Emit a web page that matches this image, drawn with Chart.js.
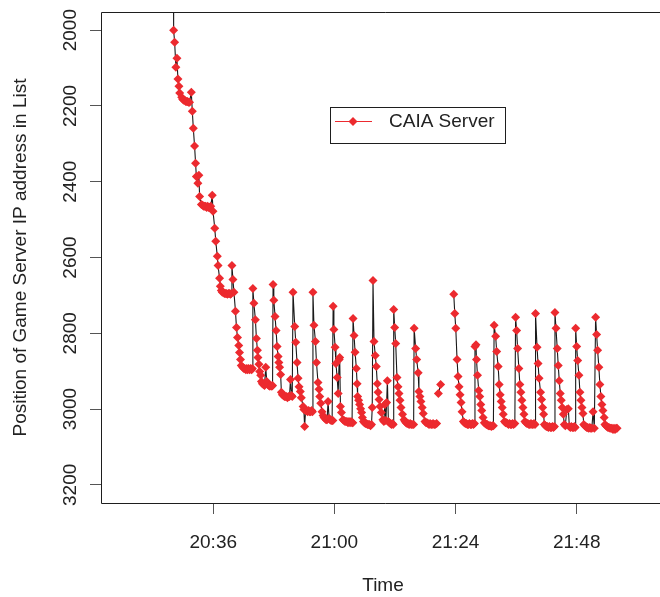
<!DOCTYPE html>
<html>
<head>
<meta charset="utf-8">
<title>CAIA Server position</title>
<script src="https://cdn.jsdelivr.net/npm/chart.js@4"></script>
<style>
  html, body { margin: 0; padding: 0; background: #fff; overflow: hidden; }
  canvas { display: block; }
</style>
</head>
<body>
<canvas id="chart" width="670" height="597"></canvas>
<script>
// Sample times, in minutes after 20:00 (null position = no sample, line breaks)
const minutes = [
  28.10, 28.15, 28.35, 28.60, 28.80, 29.00, 29.20, 29.35, 29.75, 29.95, 30.15, 30.35, 30.55, 30.75, 30.90, 31.10, 31.30,
  31.65, 31.85, 32.05, 32.30, 32.50, 32.65, 32.95, 33.15, 33.30, 33.65, 33.90, 34.10, 34.30, 34.50, 34.70, 34.90, 35.10, 35.30, 35.50,
  35.80, 35.95, 36.30, 36.50, 36.80, 36.95, 37.25, 37.40, 37.60, 37.80, 38.00, 38.20, 38.40, 38.60, 38.80, 39.00, 39.20, 39.40, 39.55,
  39.70, 39.90, 40.10, 40.40, 40.60, 40.80, 41.05, 41.20, 41.40, 41.55, 41.85, 42.05, 42.25, 42.45, 42.65, 42.80, 43.00, 43.20, 43.40, 43.60, 43.75,
  43.85, 44.05, 44.35, 44.55, 44.75, 44.85, 45.05, 45.20, 45.40, 45.55, 45.75, 45.95, 46.15, 46.40, 46.60, 46.80, 47.00, 47.20, 47.40, 47.60, 47.75,
  47.85, 48.00, 48.25, 48.45, 48.65, 48.85, 49.00, 49.15, 49.35, 49.50, 49.70, 49.90, 50.10, 50.30, 50.50, 50.70, 50.90, 51.10, 51.30, 51.50, 51.65,
  51.80, 52.15, 52.35, 52.60, 52.80, 53.00, 53.25, 53.45, 53.80, 53.95, 54.10, 54.30, 54.50, 54.70, 54.90, 55.10, 55.30, 55.50, 55.65,
  55.75, 55.95, 56.25, 56.45, 56.75, 56.95, 57.10, 57.30, 57.55, 57.75, 57.95, 58.15, 58.35, 58.55, 58.75, 58.95, 59.15, 59.35, 59.55, 59.70,
  59.75, 59.90, 60.15, 60.30, 60.55, 60.75, 60.95, 61.05, 61.20, 61.40, 61.70, 61.90, 62.10, 62.30, 62.50, 62.70, 62.90, 63.10, 63.30, 63.50, 63.65,
  63.70, 63.90, 64.10, 64.35, 64.50, 64.60, 64.80, 65.00, 65.20, 65.40, 65.55, 65.75, 65.95, 66.15, 66.35, 66.55, 66.75, 66.95, 67.15, 67.35, 67.50,
  67.65, 67.85, 68.10, 68.30, 68.50, 68.65, 68.85, 69.05, 69.30, 69.60, 69.80, 70.00, 70.20, 70.35, 70.50, 70.70, 70.90, 71.10, 71.30, 71.50, 71.65,
  71.75, 71.95, 72.15, 72.40, 72.60, 72.80, 73.00, 73.20, 73.50, 73.80, 74.00, 74.20, 74.40, 74.60, 74.80, 75.00, 75.20, 75.40, 75.70,
  75.80, 76.10, 76.30, 76.60, 76.75, 76.95, 77.15, 77.40, 77.60, 77.95, 78.15, 78.35, 78.55, 78.75, 78.95, 79.15, 79.35, 79.55, 79.75, 79.95, 80.25,
  80.40, 80.60, 81.05, 81.30,
  83.65, 83.85, 84.05, 84.30, 84.50, 84.70, 84.90, 85.10, 85.30, 85.55, 85.75, 85.95, 86.15, 86.35, 86.55, 86.75, 86.95, 87.15, 87.35, 87.55, 87.75,
  87.85, 88.05, 88.15, 88.35, 88.60, 88.80, 89.00, 89.20, 89.45, 89.70, 89.90, 90.10, 90.30, 90.50, 90.70, 90.90, 91.10, 91.30, 91.50,
  91.65, 91.95, 92.15, 92.45, 92.65, 92.85, 93.05, 93.25, 93.45, 93.70, 93.90, 94.10, 94.30, 94.50, 94.70, 94.90, 95.10, 95.30, 95.50, 95.75,
  95.90, 96.10, 96.30, 96.55, 96.75, 96.95, 97.15, 97.35, 97.55, 97.75, 97.95, 98.15, 98.35, 98.55, 98.75, 98.95, 99.15, 99.35, 99.55, 99.75,
  99.85, 100.15, 100.35, 100.55, 100.85, 101.05, 101.25, 101.45, 101.60, 101.80, 102.00, 102.20, 102.40, 102.60, 102.80, 103.00, 103.20, 103.40, 103.60,
  103.70, 103.90, 104.15, 104.35, 104.55, 104.75, 104.95, 105.15, 105.35, 105.55, 105.75, 106.05, 106.35, 106.55, 106.75, 106.95, 107.15, 107.35, 107.55, 107.70,
  107.80, 108.00, 108.20, 108.45, 108.65, 108.85, 109.05, 109.25, 109.40, 109.60, 109.80, 110.00, 110.20, 110.40, 110.60, 110.80, 111.00, 111.25, 111.50,
  111.75, 111.95, 112.15, 112.40, 112.60, 112.80, 113.00, 113.20, 113.45, 113.60, 113.80, 114.00, 114.20, 114.40, 114.60, 114.80, 115.00, 115.20, 115.40, 115.60, 115.80, 116.00
];

// Position of the game server's IP address in the list at each sample
const positions = [
  1800, 2000, 2032, 2098, 2074, 2129, 2148, 2166, 2177, 2182, 2185, 2185, 2188, 2188, 2188, 2190, 2190,
  2164, 2214, 2259, 2306, 2351, 2386, 2404, 2383, 2439, 2460, 2462, 2465, 2465, 2465, 2468, 2465, 2468, 2468, 2465,
  2436, 2478, 2523, 2557, 2597, 2621, 2655, 2676, 2687, 2692, 2692, 2695, 2695, 2695, 2697, 2695, 2695, 2697, 2695,
  2621, 2658, 2692, 2742, 2785, 2811, 2832, 2851, 2869, 2885, 2890, 2893, 2893, 2896, 2893, 2896, 2893, 2896, 2893, 2896, 2893,
  2682, 2721, 2764, 2814, 2845, 2864, 2882, 2901, 2911, 2927, 2933, 2935, 2938, 2890, 2927, 2935, 2938, 2940, 2938, 2940, 2938,
  2671, 2713, 2756, 2793, 2835, 2861, 2877, 2890, 2909, 2956, 2962, 2964, 2967, 2967, 2967, 2970, 2967, 2967, 2922, 2964, 2967,
  2692, 2782, 2824, 2877, 2919, 2941, 2954, 2970, 2993, 3001, 3046, 3004, 3004, 3007, 3004, 3007, 3007, 3004, 3007,
  2692, 2779, 2822, 2877, 2930, 2948, 2967, 2985, 3007, 3017, 3022, 3025, 3028, 3028, 2980, 3025, 3028, 3030, 3030, 3030,
  2729, 2790, 2837, 2880, 2917, 2959, 2869, 2864, 2993, 3009, 3028, 3030, 3033, 3033, 3033, 3036, 3033, 3036, 3033, 3036, 3036,
  2761, 2806, 2850, 2893, 2933, 2967, 2977, 2988, 2999, 3009, 3022, 3033, 3036, 3038, 3038, 3041, 3041, 3041, 3044, 3041, 2996,
  2661, 2822, 2859, 2888, 2933, 2956, 2975, 2993, 3009, 3028, 3033, 2988, 3030, 2983, 2925, 3033, 3036, 3038, 3041, 3038, 3041,
  2737, 2785, 2827, 2917, 2941, 2959, 2977, 2996, 3014, 3028, 3033, 3036, 3038, 3038, 3041, 3038, 3041, 3041, 3041,
  2787, 2840, 2869, 2904, 2954, 2967, 2980, 2996, 3012, 3033, 3036, 3036, 3038, 3041, 3038, 3041, 3041, 3038, 3041, 3041, 3038,
  null, 2959, 2935, null,
  2697, 2748, 2787, 2869, 2914, 2941, 2962, 2983, 3007, 3033, 3036, 3038, 3038, 3041, 3041, 3038, 3041, 3041, 3038, 3041, 3038,
  2835, 2830, 2869, 2911, 2951, 2967, 2988, 3004, 3022, 3036, 3038, 3041, 3041, 3044, 3044, 3044, 3046, 3044, 3044,
  2779, 2808, 2848, 2888, 2935, 2962, 2980, 2996, 3014, 3033, 3036, 3036, 3038, 3041, 3038, 3041, 3041, 3038, 3041, 3038,
  2758, 2793, 2840, 2893, 2935, 2956, 2977, 2996, 3014, 3033, 3036, 3038, 3038, 3041, 3041, 3038, 3041, 3041, 3038, 3041,
  2748, 2837, 2880, 2919, 2956, 2975, 2996, 3014, 3041, 3044, 3046, 3046, 3049, 3046, 3049, 3049, 3046, 3049, 3046,
  2745, 2787, 2840, 2885, 2925, 2959, 2977, 2996, 3014, 3041, 3044, 3001, 2999, 3046, 3049, 3046, 3049, 3049, 3046, 3049,
  2787, 2835, 2872, 2911, 2956, 2977, 2996, 3012, 3041, 3044, 3046, 3049, 3049, 3051, 3049, 3051, 3051, 3007, 3051,
  2758, 2803, 2845, 2890, 2935, 2967, 2988, 3004, 3022, 3041, 3044, 3046, 3049, 3049, 3051, 3051, 3051, 3054, 3051, 3054, 3051, 3051
];

// Axis ticks
const timeTicks = [36, 60, 84, 108];            // 20:36, 21:00, 21:24, 21:48
const positionTicks = [2000, 2200, 2400, 2600, 2800, 3000, 3200];

const seriesName = 'CAIA Server';
const FONT = '"Liberation Sans", Arial, Helvetica, sans-serif';
const TEXT = '#222';
const RED = '#EC2A2F';

function clock(m) {
  const h = 20 + Math.floor(m / 60);
  const mm = Math.round(m % 60);
  return h + ':' + String(mm).padStart(2, '0');
}

const points = minutes.map((m, i) => ({ x: m, y: positions[i] }));

// Frame (top, left, bottom), rotated position labels and the legend box
const framePlugin = {
  id: 'frame',
  afterDraw(chart) {
    const { ctx, chartArea: a } = chart;
    const ys = chart.scales.y;
    const L = Math.round(a.left) + 0.5, T = Math.round(a.top) + 0.5, B = Math.round(a.bottom) + 0.5;
    ctx.save();
    ctx.strokeStyle = '#1e1e1e';
    ctx.lineWidth = 1;
    ctx.beginPath();
    ctx.moveTo(chart.width, T);
    ctx.lineTo(L, T);
    ctx.lineTo(L, B);
    ctx.lineTo(chart.width, B);
    ctx.stroke();

    ctx.fillStyle = TEXT;
    ctx.font = '19px ' + FONT;
    ctx.textAlign = 'center';
    ctx.textBaseline = 'middle';
    ys.ticks.forEach(t => {
      const y = ys.getPixelForValue(t.value);
      ctx.save();
      ctx.translate(71, y);
      ctx.rotate(-Math.PI / 2);
      ctx.fillText(String(t.value), 0, 0);
      ctx.restore();
    });

    // legend
    const lx = 330, ly = 107, lw = 175, lh = 36;
    ctx.strokeStyle = '#1e1e1e';
    ctx.strokeRect(lx + 0.5, ly + 0.5, lw, lh);
    const cy = ly + 14.5;
    ctx.strokeStyle = RED;
    ctx.lineWidth = 1;
    ctx.beginPath();
    ctx.moveTo(lx + 5, cy);
    ctx.lineTo(lx + 42, cy);
    ctx.stroke();
    ctx.fillStyle = RED;
    ctx.beginPath();
    const cx = lx + 23, r = 4.5;
    ctx.moveTo(cx, cy - r); ctx.lineTo(cx + r, cy); ctx.lineTo(cx, cy + r); ctx.lineTo(cx - r, cy);
    ctx.closePath();
    ctx.fill();
    ctx.fillStyle = TEXT;
    ctx.textAlign = 'left';
    ctx.textBaseline = 'middle';
    ctx.fillText(seriesName, lx + 59, cy);
    ctx.restore();
  }
};

new Chart(document.getElementById('chart'), {
  type: 'line',
  data: {
    datasets: [{
      label: seriesName,
      data: points,
      borderColor: '#1a1a1a',
      borderWidth: 1.1,
      pointStyle: 'rectRot',
      pointRadius: 4.5,
      pointBorderWidth: 0,
      pointBackgroundColor: RED,
      pointBorderColor: RED,
      spanGaps: false,
      tension: 0
    }]
  },
  options: {
    responsive: false,
    animation: false,
    layout: { padding: { top: 12, right: 5, left: 0, bottom: 0 } },
    plugins: { legend: { display: false }, tooltip: { enabled: false } },
    scales: {
      x: {
        type: 'linear',
        min: 13.76,
        max: 125.5,
        afterBuildTicks: s => { s.ticks = timeTicks.map(v => ({ value: v })); },
        afterFit: s => { s.height = 94; },
        ticks: {
          callback: v => clock(v),
          font: { family: FONT, size: 19 },
          color: TEXT,
          padding: 17,
          maxRotation: 0
        },
        grid: { drawOnChartArea: false, drawTicks: true, tickLength: 11, color: '#555', lineWidth: 1 },
        border: { display: false },
        title: {
          display: true, text: 'Time', color: TEXT,
          font: { family: FONT, size: 19 },
          padding: { top: 0, bottom: 0 }
        }
      },
      y: {
        type: 'linear',
        reverse: true,
        min: 1952,
        max: 3248,
        afterBuildTicks: s => { s.ticks = positionTicks.map(v => ({ value: v })); },
        afterFit: s => { s.width = 101; },
        ticks: { display: false },
        grid: { drawOnChartArea: false, drawTicks: true, tickLength: 11, color: '#555', lineWidth: 1 },
        border: { display: false },
        title: {
          display: true, text: 'Position of Game Server IP address in List', color: TEXT,
          font: { family: FONT, size: 19 },
          padding: { top: 9, bottom: 0 }
        }
      }
    }
  },
  plugins: [framePlugin]
});
</script>
</body>
</html>
